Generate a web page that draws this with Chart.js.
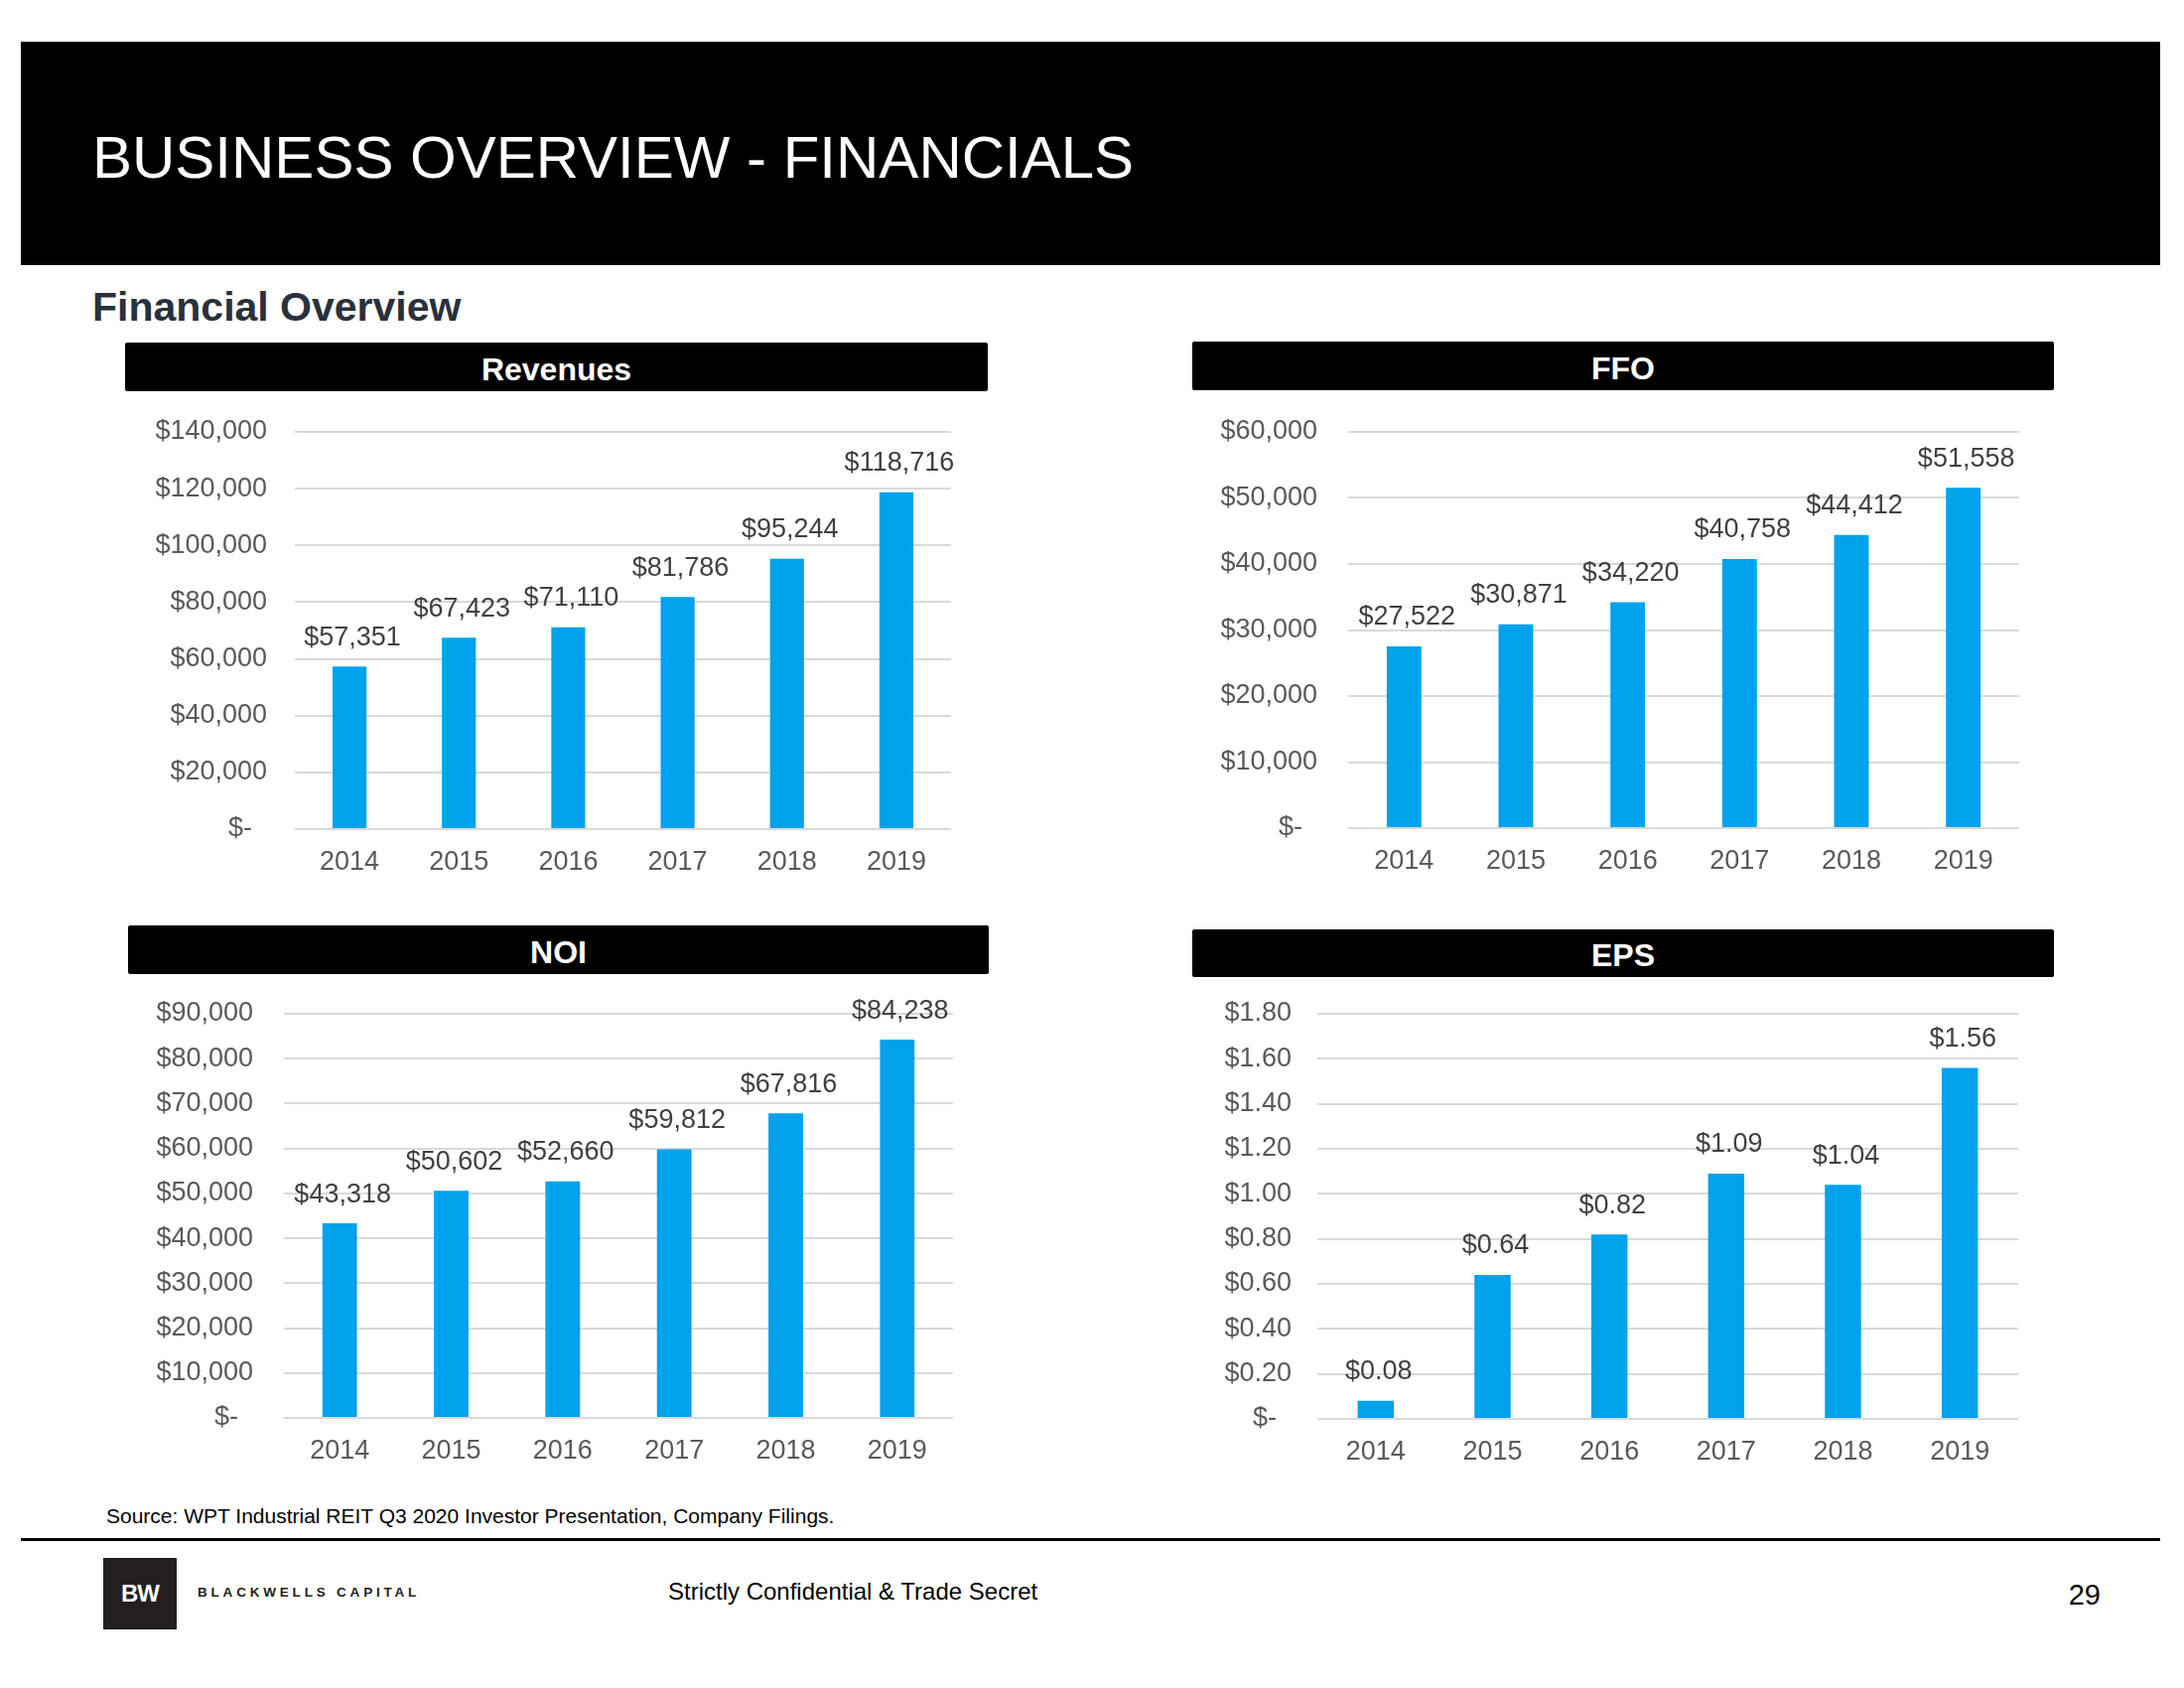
<!DOCTYPE html>
<html>
<head>
<meta charset="utf-8">
<script src="https://cdn.jsdelivr.net/npm/chart.js@4.4.1/dist/chart.umd.min.js"></script>
<style>
  html, body { margin: 0; padding: 0; background: #fff; }
  body { width: 2200px; height: 1700px; position: relative; overflow: hidden; font-family: "Liberation Sans", Arial, sans-serif; }
  .abs { position: absolute; }
  .header { left: 21px; top: 42px; width: 2155px; height: 225px; background: #000; }
  .title { left: 93px; top: 128px; font-size: 60px; line-height: 62px; color: #fff; white-space: nowrap; }
  .subtitle { left: 93px; top: 289px; font-size: 41px; line-height: 41px; font-weight: bold; color: #2a313b; }
  .panel { background: #000; color: #fff; font-weight: bold; font-size: 32px; text-align: center; border-radius: 2px; box-sizing: border-box; padding-top: 5px; }
  canvas { position: absolute; }
  .source { left: 107px; top: 1515px; font-size: 21px; line-height: 24px; color: #000; }
  .rule { left: 21px; top: 1549px; width: 2155px; height: 3px; background: #000; }
  .logo { left: 104px; top: 1569px; width: 74px; height: 72px; background: #231f20; color: #fff; font-weight: bold; font-size: 24px; line-height: 72px; text-align: center; letter-spacing: -1px; }
  .brand { left: 199px; top: 1596px; font-size: 13.5px; line-height: 16px; font-weight: bold; letter-spacing: 3.8px; color: #231f20; }
  .conf { left: 673px; top: 1589px; font-size: 24px; line-height: 28px; color: #000; }
  .page { left: 2050px; top: 1590px; width: 66px; text-align: right; font-size: 29px; line-height: 32px; color: #000; }
</style>
</head>
<body>
  <div class="abs header"></div>
  <div class="abs title">BUSINESS OVERVIEW - FINANCIALS</div>
  <div class="abs subtitle">Financial Overview</div>

  <div class="abs panel" style="left:126px; top:345px; width:869px; height:49px; line-height:44px;">Revenues</div>
  <div class="abs panel" style="left:1201px; top:344px; width:868px; height:49px; line-height:44px;">FFO</div>
  <div class="abs panel" style="left:129px; top:932px; width:867px; height:49px; line-height:44px;">NOI</div>
  <div class="abs panel" style="left:1201px; top:936px; width:868px; height:48px; line-height:43px;">EPS</div>

  <canvas id="revChart" width="840" height="490" style="left:140px; top:405px;"></canvas>
  <canvas id="ffoChart" width="840" height="490" style="left:1220px; top:405px;"></canvas>
  <canvas id="noiChart" width="850" height="495" style="left:130px; top:990px;"></canvas>
  <canvas id="epsChart" width="860" height="495" style="left:1200px; top:990px;"></canvas>

  <div class="abs source">Source: WPT Industrial REIT Q3 2020 Investor Presentation, Company Filings.</div>
  <div class="abs rule"></div>
  <div class="abs logo">BW</div>
  <div class="abs brand">BLACKWELLS CAPITAL</div>
  <div class="abs conf">Strictly Confidential &amp; Trade Secret</div>
  <div class="abs page">29</div>

<script>
// values (in thousands, EPS in dollars)
const years = ['2014', '2015', '2016', '2017', '2018', '2019'];
const revenues = [57351, 67423, 71110, 81786, 95244, 118716];
const ffo = [27522, 30871, 34220, 40758, 44412, 51558];
const noi = [43318, 50602, 52660, 59812, 67816, 84238];
const eps = [0.08, 0.64, 0.82, 1.09, 1.04, 1.56];

const BAR_BLUE = '#00A2EC';
const FONT = '"Liberation Sans", Arial, sans-serif';

const dollars = v => '$' + Math.round(v).toLocaleString('en-US');
const cents = v => '$' + v.toFixed(2);

// Excel style data labels sitting above each bar
const valueLabels = {
  id: 'valueLabels',
  afterDatasetsDraw(chart, args, opts) {
    const ctx = chart.ctx;
    const meta = chart.getDatasetMeta(0);
    const values = chart.data.datasets[0].data;
    ctx.save();
    ctx.font = '27px ' + FONT;
    ctx.fillStyle = '#404040';
    ctx.textAlign = 'center';
    ctx.textBaseline = 'middle';
    meta.data.forEach((bar, i) => {
      ctx.fillText(opts.format(values[i]), bar.x + 3, bar.y - 29);
    });
    ctx.restore();
  }
};

function drawChart(id, values, cfg) {
  const ctx = document.getElementById(id).getContext('2d');
  return new Chart(ctx, {
    type: 'bar',
    data: {
      labels: years,
      datasets: [{
        data: values,
        backgroundColor: BAR_BLUE,
        barPercentage: 0.31,
        categoryPercentage: 1
      }]
    },
    options: {
      responsive: false,
      animation: false,
      layout: { padding: { top: cfg.top, right: cfg.right, left: 0, bottom: 0 } },
      plugins: {
        legend: { display: false },
        tooltip: { enabled: false },
        valueLabels: { format: cfg.format }
      },
      scales: {
        x: {
          grid: { display: false, drawTicks: false },
          border: { display: false },
          ticks: { color: '#595959', font: { family: FONT, size: 27 }, padding: 17 },
          afterFit: s => { s.height = cfg.xh; }
        },
        y: {
          min: 0,
          max: cfg.max,
          grid: { color: '#D9D9D9', lineWidth: 2, drawTicks: false },
          border: { display: false },
          ticks: {
            stepSize: cfg.step,
            autoSkip: false,
            color: '#595959',
            font: { family: FONT, size: 27 },
            padding: cfg.pad,
            callback: v => (Math.abs(v) < 1e-9 ? '$-  ' : cfg.format(v))
          },
          // fixed axis width, and let layout.padding alone decide the top edge
          afterFit: s => {
            s.width = cfg.yw;
            s.paddingTop = 0;
            s.paddingBottom = 0;
          }
        }
      }
    },
    plugins: [valueLabels]
  });
}

drawChart('revChart', revenues, { max: 140000, step: 20000, format: dollars, top: 30, right: 22, xh: 60, yw: 157, pad: 28 });
drawChart('ffoChart', ffo, { max: 60000, step: 10000, format: dollars, top: 30, right: 26, xh: 61, yw: 138, pad: 31 });
drawChart('noiChart', noi, { max: 90000, step: 10000, format: dollars, top: 31, right: 20, xh: 57, yw: 156, pad: 31 });
drawChart('epsChart', eps, { max: 1.8, step: 0.2, format: cents, top: 31, right: 27, xh: 56, yw: 127, pad: 26 });
</script>
</body>
</html>
